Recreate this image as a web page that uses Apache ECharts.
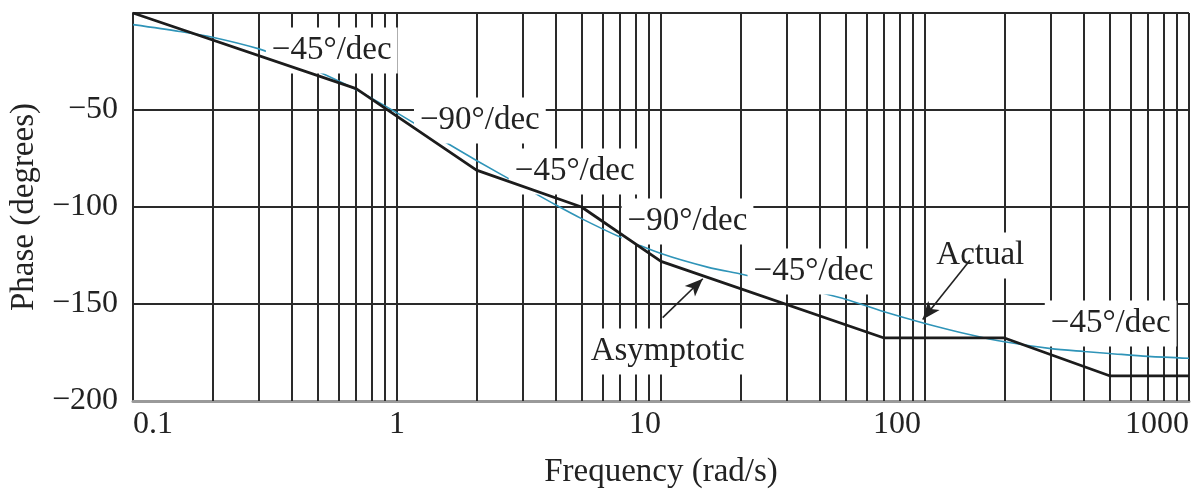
<!DOCTYPE html>
<html>
<head>
<meta charset="utf-8">
<script src="https://cdn.jsdelivr.net/npm/echarts@6/dist/echarts.min.js"></script>
<style>
html, body { margin: 0; padding: 0; background: #fff; }
#phaseChart { width: 1196px; height: 491px; }
</style>
</head>
<body>
<div id="phaseChart"></div>
<script>
// asymptotic phase (straight-line approximation)
var asymFreq = [0.1, 0.7, 2, 5, 10, 70, 200, 500, 1000];
var asymPhase = [0, -39, -81, -100, -128, -167.5, -167.5, -187, -187];

// actual phase curve
var actualFreq = [0.1, 0.15, 0.2, 0.3, 0.4, 0.5, 0.7, 1, 1.5, 2, 3, 4, 5, 7, 10, 15, 20, 30, 40, 50, 70, 100, 150, 200, 300, 400, 500, 700, 1000];
var actualPhase = [-6, -9.5, -12.5, -18.5, -24.5, -30, -39.5, -51.5, -66, -76, -89.5, -99, -106, -115.5, -124, -131, -134.5, -139.5, -144, -147.5, -154, -160, -166, -169.5, -173, -174.5, -175.5, -177, -178];

// tick labels and the log grid lines (1..9 per decade)
var xTickLabels = ['0.1', '1', '10', '100', '1000'];
var gridFreq = [0.2, 0.3, 0.4, 0.5, 0.6, 0.7, 0.8, 0.9,
    1, 2, 3, 4, 5, 6, 7, 8, 9,
    10, 20, 30, 40, 50, 60, 70, 80, 90,
    100, 200, 300, 400, 500, 600, 700, 800, 900, 1000];

// annotations
var noteText = ['\u221245\u00b0/dec', '\u221290\u00b0/dec', '\u221245\u00b0/dec', '\u221290\u00b0/dec', '\u221245\u00b0/dec', 'Actual', '\u221245\u00b0/dec', 'Asymptotic'];
var noteFreq = [0.566, 2.06, 4.71, 12.6, 37.8, 162, 505, 10.6];
var notePhase = [-17.5, -53.6, -79.9, -105.7, -131.4, -123.2, -158.2, -172.7];

// arrows: from label to curve
var arrowFrom = [[10.15, -157], [148, -127.5]];
var arrowTo = [[14.4, -137], [98, -158]];

var SERIF = '"Liberation Serif", "DejaVu Serif", serif';

function zip(a, b) {
    var out = [];
    for (var i = 0; i < a.length; i++) {
        out.push([a[i], b[i]]);
    }
    return out;
}

function getOption() {
    var notes = [];
    for (var i = 0; i < noteText.length; i++) {
        notes.push({ name: noteText[i], value: [noteFreq[i], notePhase[i]] });
    }
    var arrows = [];
    for (var j = 0; j < arrowFrom.length; j++) {
        arrows.push([{ coord: arrowFrom[j] }, { coord: arrowTo[j] }]);
    }
    var vLines = [];
    for (var k = 0; k < gridFreq.length; k++) {
        vLines.push({ xAxis: gridFreq[k] });
    }
    return {
        animation: false,
        backgroundColor: '#fff',
        grid: { left: 133, right: 7, top: 13, bottom: 90, outerBoundsMode: 'none' },
        xAxis: {
            type: 'log',
            logBase: 10,
            min: 0.1,
            max: 1000,
            name: 'Frequency (rad/s)',
            nameLocation: 'middle',
            nameGap: 55,
            nameTextStyle: { fontFamily: SERIF, fontSize: 33, color: '#222' },
            axisLine: { show: true, onZero: false, lineStyle: { color: '#9a9a9a', width: 3 } },
            axisTick: { show: false },
            splitLine: { show: false },
            axisLabel: {
                margin: 8,
                fontFamily: SERIF,
                fontSize: 32,
                color: '#222',
                formatter: function (v) {
                    var s = v < 1 ? '0.1' : String(Math.round(v));
                    if (xTickLabels.indexOf(s) < 0) return '';
                    if (s === '0.1') return '{l|' + s + '}';
                    if (s === '1') return '{c|' + s + '}';
                    return '{r' + s.length + '|' + s + '}';
                },
                rich: {
                    l: { fontFamily: SERIF, fontSize: 32, color: '#222', padding: [0, 0, 0, 40] },
                    c: { fontFamily: SERIF, fontSize: 32, color: '#222' },
                    r2: { fontFamily: SERIF, fontSize: 32, color: '#222', padding: [0, 32, 0, 0] },
                    r3: { fontFamily: SERIF, fontSize: 32, color: '#222', padding: [0, 56, 0, 0] },
                    r4: { fontFamily: SERIF, fontSize: 32, color: '#222', padding: [0, 64, 0, 0] }
                }
            }
        },
        yAxis: {
            type: 'value',
            min: -200,
            max: 0,
            interval: 50,
            name: 'Phase (degrees)',
            nameLocation: 'middle',
            nameGap: 89,
            nameTextStyle: { fontFamily: SERIF, fontSize: 33, color: '#222' },
            axisLine: { show: true, onZero: false, lineStyle: { color: '#2a2a2a', width: 2 } },
            axisTick: { show: false },
            splitLine: { show: true, lineStyle: { color: ['#9a9a9a', '#2a2a2a', '#2a2a2a', '#2a2a2a', '#2a2a2a'], width: 2 } },
            axisLabel: {
                margin: 15,
                fontFamily: SERIF,
                fontSize: 32,
                color: '#222',
                formatter: function (v) {
                    return v === 0 ? '' : '\u2212' + Math.abs(v);
                }
            }
        },
        series: [
            {
                name: 'Actual',
                type: 'line',
                data: zip(actualFreq, actualPhase),
                smooth: 0.3,
                showSymbol: false,
                silent: true,
                z: 3,
                lineStyle: { color: '#2f94b8', width: 1.6 },
                // vertical log grid lines
                markLine: {
                    silent: true,
                    z: 1,
                    symbol: ['none', 'none'],
                    label: { show: false },
                    lineStyle: { color: '#2a2a2a', width: 2, type: 'solid' },
                    data: vLines
                }
            },
            {
                name: 'notes',
                type: 'scatter',
                data: notes,
                symbol: 'rect',
                symbolSize: 1,
                silent: true,
                z: 10,
                itemStyle: { color: 'rgba(0,0,0,0)', opacity: 1 },
                label: {
                    show: true,
                    position: 'inside',
                    offset: [0, 3.5],
                    formatter: '{b}',
                    fontFamily: SERIF,
                    fontSize: 33,
                    color: '#222',
                    backgroundColor: '#fff',
                    padding: [3, 6, 10, 6]
                },
                markLine: {
                    silent: true,
                    z: 12,
                    symbol: ['none', 'arrow'],
                    symbolSize: [11, 18],
                    label: { show: false },
                    lineStyle: { color: '#222', width: 1.6, type: 'solid' },
                    data: arrows
                }
            },
            {
                // drawn above the white label boxes, like the original
                name: 'Asymptotic',
                type: 'line',
                data: zip(asymFreq, asymPhase),
                showSymbol: false,
                silent: true,
                z: 11,
                lineStyle: { color: '#1c1c1c', width: 2.8 }
            }
        ]
    };
}

var myChart = echarts.init(document.getElementById('phaseChart'));
myChart.setOption(getOption());
</script>
</body>
</html>
